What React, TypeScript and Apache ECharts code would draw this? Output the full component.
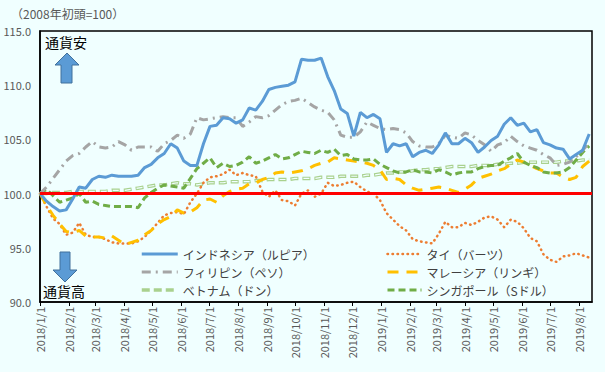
import React, { useEffect, useRef } from 'react';
import * as echarts from 'echarts';

const TITLE = '（2008年初頭=100）';
const START_YEAR = 2018;
const LAST_DAY = 591; // 2019/8/15, days since 2018/1/1
const STEP_DAYS = 7; // weekly observations
const MONTH_TICKS = [
  '2018/1/1', '2018/2/1', '2018/3/1', '2018/4/1', '2018/5/1', '2018/6/1', '2018/7/1', '2018/8/1',
  '2018/9/1', '2018/10/1', '2018/11/1', '2018/12/1', '2019/1/1', '2019/2/1', '2019/3/1', '2019/4/1',
  '2019/5/1', '2019/6/1', '2019/7/1', '2019/8/1',
];
const Y_MIN = 90;
const Y_MAX = 115;
const Y_STEP = 5;
const BASE = 100;

const NAMES = {
  idr: 'インドネシア（ルピア）',
  php: 'フィリピン（ペソ）',
  vnd: 'ベトナム（ドン）',
  thb: 'タイ（バーツ）',
  myr: 'マレーシア（リンギ）',
  sgd: 'シンガポール（Sドル）',
};

const indonesia = [
  100.0, 99.3, 98.8, 98.4, 98.5, 99.5, 100.6, 100.5, 101.3, 101.6,
  101.5, 101.7, 101.6, 101.6, 101.6, 101.7, 102.4, 102.7, 103.3, 103.7,
  104.6, 104.2, 103.0, 102.6, 102.6, 104.6, 106.2, 106.3, 107.0, 106.9,
  106.5, 106.8, 107.9, 107.7, 108.5, 109.6, 109.8, 109.9, 110.0, 110.3,
  112.4, 112.3, 112.3, 112.5, 110.8, 109.5, 107.8, 107.4, 105.3, 107.5,
  107.0, 107.3, 106.9, 103.8, 104.6, 104.4, 104.6, 103.4, 103.8, 104.0,
  103.7, 104.5, 105.6, 104.6, 104.6, 105.1, 104.7, 103.8, 104.3, 104.9,
  105.3, 106.4, 107.0, 106.3, 106.5, 105.7, 105.9, 104.7, 104.5, 104.2,
  104.1, 103.2, 103.6, 104.0, 105.5,
];
const philippines = [
  100.0, 100.6, 101.4, 102.2, 103.0, 103.5, 103.7, 104.3, 104.8, 104.3,
  104.2, 104.3, 104.8, 104.5, 104.0, 104.3, 104.3, 104.3, 103.9, 104.6,
  104.9, 105.4, 105.1, 105.5, 107.0, 106.8, 106.9, 107.0, 107.1, 107.0,
  107.0, 106.2, 106.6, 107.1, 107.0, 107.2, 107.7, 108.2, 108.5, 108.6,
  108.8, 108.4, 108.0, 107.7, 107.5, 106.8, 105.4, 105.2, 105.2, 105.7,
  106.6, 106.3, 106.0, 105.9, 106.0, 105.9, 105.6, 104.8, 104.4, 104.3,
  104.3, 104.6, 105.4, 105.2, 105.1, 105.6, 105.4, 104.9, 104.5, 103.9,
  104.5, 104.7, 105.3, 104.8, 104.4, 104.2, 104.0, 103.6, 103.3, 102.6,
  102.7, 102.9, 103.4, 104.0, 104.7,
];
const thailand = [
  100.0, 98.8, 97.7, 97.2, 96.2, 96.4, 97.3, 96.2, 96.0, 96.0,
  95.8, 95.5, 95.4, 95.4, 95.4, 95.6, 96.0, 96.6, 97.3, 98.0,
  98.2, 98.3, 98.1, 99.2, 100.0, 101.0, 101.5, 101.6, 101.8, 102.2,
  101.7, 101.9, 101.7, 101.6, 100.2, 99.7, 100.3, 99.4, 99.3, 98.9,
  100.0, 100.3, 99.7, 100.0, 101.0, 100.7, 100.8, 101.0, 101.1, 100.6,
  100.2, 100.0, 99.4, 98.2, 97.6, 97.0, 96.6, 95.8, 95.6, 95.5,
  95.4, 96.3, 97.4, 96.9, 96.9, 97.3, 97.1, 97.4, 97.8, 97.9,
  97.6, 96.9, 97.6, 97.4, 96.8, 95.9, 95.6, 94.4, 93.9, 93.7,
  94.2, 94.3, 94.5, 94.3, 94.1,
];
const malaysia = [
  100.0, 98.9, 98.0, 97.2, 96.5, 96.4, 96.6, 96.1, 96.0, 96.0,
  95.9, 96.1, 95.7, 95.3, 95.5, 95.7, 96.2, 96.6, 97.2, 97.6,
  97.9, 98.5, 98.2, 98.3, 98.7, 99.4, 99.5, 99.2, 99.8, 100.2,
  100.4, 100.5, 100.9, 101.0, 101.3, 101.5, 101.9, 102.0, 101.9, 102.0,
  102.1, 102.3, 102.6, 102.8, 102.9, 103.3, 103.2, 103.1, 103.0, 102.9,
  102.8, 102.6, 102.2, 101.3, 101.4, 101.3, 100.8, 100.5, 100.3, 100.4,
  100.5, 100.6, 100.5, 100.3, 100.1, 100.4, 100.8, 101.4, 101.6, 101.8,
  102.1, 102.3, 102.7, 103.1, 102.9, 102.6, 102.3, 102.1, 101.9, 101.9,
  101.5, 101.3, 101.5, 102.5, 103.0,
];
const vietnam = [
  100.0, 100.0, 100.1, 100.1, 100.1, 100.2, 100.2, 100.2, 100.2, 100.2,
  100.2, 100.3, 100.3, 100.3, 100.4, 100.5, 100.6, 100.7, 100.8, 100.8,
  100.9, 101.0, 100.9, 100.9, 100.8, 100.9, 101.0, 101.0, 101.0, 101.1,
  101.1, 101.1, 101.1, 101.2, 101.2, 101.3, 101.3, 101.3, 101.3, 101.4,
  101.4, 101.4, 101.4, 101.5, 101.5, 101.5, 101.6, 101.6, 101.6, 101.6,
  101.7, 101.7, 101.8, 101.9, 101.9, 102.0, 102.0, 102.1, 102.2, 102.2,
  102.3, 102.3, 102.4, 102.5, 102.5, 102.5, 102.5, 102.6, 102.6, 102.6,
  102.7, 102.7, 102.8, 102.8, 102.9, 102.9, 102.9, 102.9, 102.9, 102.9,
  103.0, 103.0, 103.0, 103.1, 103.1,
];
const singapore = [
  100.0, 100.4, 99.8, 99.2, 99.4, 99.6, 100.0, 99.2, 99.3, 99.0,
  98.9, 98.8, 98.8, 98.8, 98.8, 98.7, 99.6, 100.1, 100.5, 100.8,
  100.7, 100.6, 100.5, 101.4, 102.3, 102.8, 103.3, 102.4, 102.8, 102.5,
  102.6, 102.9, 103.4, 102.8, 103.0, 103.3, 103.6, 103.2, 103.3, 103.6,
  103.9, 103.8, 103.7, 104.0, 103.8, 104.1, 103.5, 103.6, 103.2, 103.1,
  103.1, 103.2, 102.7, 102.4, 102.1, 101.9, 102.0, 102.2, 102.0, 102.0,
  101.9, 102.2, 102.0, 101.7, 101.9, 102.0, 102.0, 102.3, 102.5, 102.6,
  102.6, 103.0, 103.3, 103.7, 102.9, 102.6, 102.4, 102.0, 101.9, 101.9,
  102.0, 102.4, 103.1, 103.8, 104.4,
];

const BG = '#F0FFFF';

function buildDays(): string[] {
  const out: string[] = [];
  for (let d = 0; d <= LAST_DAY; d++) {
    const dt = new Date(Date.UTC(START_YEAR, 0, 1 + d));
    out.push(`${dt.getUTCFullYear()}/${dt.getUTCMonth() + 1}/${dt.getUTCDate()}`);
  }
  return out;
}

const toPairs = (vals: number[]) => vals.map((v, i) => [i * STEP_DAYS, v]);

export default function App() {
  const ref = useRef<HTMLDivElement>(null);
  useEffect(() => {
    if (!ref.current) return;
    const chart = echarts.init(ref.current, undefined, { renderer: 'svg' });
    const days = buildDays();
    const tickSet = new Set(MONTH_TICKS);
    const isTick = (_i: number, v: string) => tickSet.has(v);
    const font = '"Noto Sans CJK JP", "Noto Sans", sans-serif';

    const line = (name: string, data: number[], color: string, width: number, type: any, extra: any = {}) => ({
      name,
      type: 'line',
      data: toPairs(data),
      symbol: 'none',
      showSymbol: false,
      smooth: false,
      color,
      lineStyle: { color, width, type, ...extra },
    });

    const legendCommon = {
      orient: 'vertical', top: 243,
      itemHeight: 14, itemGap: 6,
      itemStyle: { opacity: 0 },
      lineStyle: { width: 'inherit' },
      textStyle: { color: '#404040', fontSize: 12, fontFamily: font },
    };

    chart.setOption({
      animation: false,
      backgroundColor: BG,
      textStyle: { fontFamily: font },
      grid: {
        left: 40, right: 13, top: 31, bottom: 70,
        show: true, borderColor: '#000', borderWidth: 1.5, backgroundColor: 'transparent',
      },
      xAxis: {
        type: 'category',
        data: days,
        boundaryGap: false,
        axisLine: { lineStyle: { color: '#000', width: 1.5 } },
        axisTick: { show: true, interval: isTick, length: 4, lineStyle: { color: '#000' } },
        axisLabel: {
          interval: isTick, rotate: 90, color: '#595959', fontSize: 11, margin: 5,
          fontFamily: font, hideOverlap: false,
        },
        splitLine: { show: false },
      },
      yAxis: {
        type: 'value',
        min: Y_MIN, max: Y_MAX, interval: Y_STEP,
        axisLine: { show: true, lineStyle: { color: '#000', width: 1.5 } },
        axisTick: { show: false },
        splitLine: { show: false },
        axisLabel: {
          color: '#595959', fontSize: 11, margin: 9, fontFamily: font,
          formatter: (v: number) => v.toFixed(1),
        },
      },
      legend: [
        { ...legendCommon, data: [NAMES.idr, NAMES.php, NAMES.vnd], left: 135, itemWidth: 36 },
        { ...legendCommon, data: [NAMES.thb, NAMES.myr, NAMES.sgd], left: 381, itemWidth: 34 },
      ],
      series: [
        line(NAMES.vnd, vietnam, '#A9D18E', 3.5, [8, 4]),
        { ...line('vnd-inner', vietnam, BG, 1.2, [6, 6], { dashOffset: -1 }), legendHoverLink: false, silent: true },
        line(NAMES.thb, thailand, '#ED7D31', 2.5, [0.5, 4.5], { cap: 'round' }),
        line(NAMES.myr, malaysia, '#FFC000', 3, [11, 8]),
        line(NAMES.sgd, singapore, '#70AD47', 3, [7, 4]),
        line(NAMES.php, philippines, '#A5A5A5', 3, [9, 5, 2, 5]),
        {
          ...line(NAMES.idr, indonesia, '#5B9BD5', 3, 'solid'),
          markLine: {
            silent: true, symbol: 'none', label: { show: false },
            lineStyle: { color: '#FF0000', width: 3, type: 'solid' },
            data: [{ yAxis: BASE }],
          },
        },
      ],
      graphic: [
        { type: 'text', left: 11, top: 7, style: { text: TITLE, fill: '#595959', fontSize: 12, fontFamily: font } },
        { type: 'text', left: 45, top: 35, style: { text: '通貨安', fill: '#000', fontSize: 14, fontFamily: font } },
        { type: 'text', left: 43, top: 284, style: { text: '通貨高', fill: '#000', fontSize: 14, fontFamily: font } },
        {
          type: 'polygon',
          shape: { points: [[67, 53], [79, 65], [72, 65], [72, 83], [61, 83], [61, 65], [55, 65]] },
          style: { fill: '#5B9BD5', stroke: '#41719C', lineWidth: 1 },
        },
        {
          type: 'polygon',
          shape: { points: [[60, 252], [70, 252], [70, 270], [77, 270], [65, 282], [53, 270], [60, 270]] },
          style: { fill: '#5B9BD5', stroke: '#41719C', lineWidth: 1 },
        },
      ],
    });
    return () => chart.dispose();
  }, []);
  return <div ref={ref} style={{ position: 'fixed', left: 0, top: 0, width: 605, height: 372 }} />;
}
